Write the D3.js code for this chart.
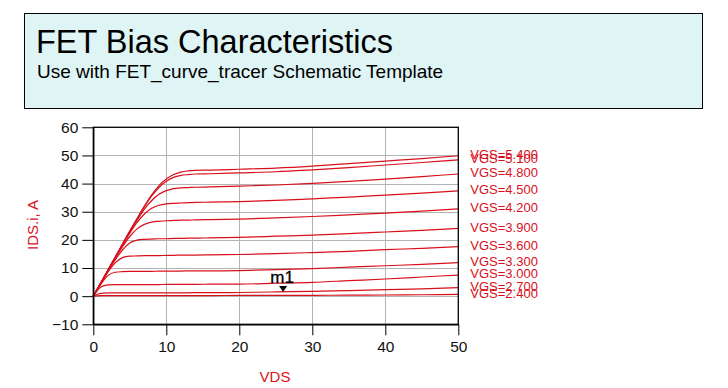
<!DOCTYPE html>
<html><head><meta charset="utf-8">
<script src="https://cdn.jsdelivr.net/npm/d3@7"></script>
<style>
html,body{margin:0;padding:0;background:#fff;}
svg{display:block;font-family:"Liberation Sans",Arial,sans-serif;}
</style></head>
<body><svg id="c" width="728" height="388"></svg>
<script>
const titleText = "FET Bias Characteristics";
const subtitleText = "Use with FET_curve_tracer Schematic Template";
const xLabel = "VDS";
const yLabel = "IDS.i, A";
const xTicks = [0,10,20,30,40,50];
const yTicks = [-10,0,10,20,30,40,50,60];
const vds = [0,1,2,3,4,5,6,7,8,9,10,11,12,13,14,16,20,25,30,35,40,45,50];
const vgsLabels = ["VGS=2.400","VGS=2.700","VGS=3.000","VGS=3.300","VGS=3.600","VGS=3.900","VGS=4.200","VGS=4.500","VGS=4.800","VGS=5.100","VGS=5.400"];
const ids_2400 = [0,0.2,0.2,0.2,0.2,0.2,0.2,0.2,0.2,0.2,0.2,0.2,0.2,0.2,0.2,0.22,0.25,0.28,0.3,0.36,0.42,0.5,0.6];
const ids_2700 = [0,1.0,1.2,1.2,1.2,1.2,1.2,1.2,1.2,1.2,1.2,1.2,1.2,1.2,1.25,1.25,1.3,1.5,1.7,2.0,2.3,2.6,3.0];
const ids_3000 = [0,3.2,4.0,4.1,4.1,4.1,4.1,4.1,4.1,4.1,4.2,4.2,4.2,4.2,4.2,4.25,4.3,4.6,4.9,5.5,6.1,6.8,7.5];
const ids_3300 = [0,4.1,7.3,8.5,8.7,8.8,8.8,8.8,8.8,8.9,8.9,8.9,8.9,9.0,9.0,9.0,9.1,9.4,9.8,10.3,10.8,11.3,11.9];
const ids_3600 = [0,4.4,8.5,11.8,13.7,14.2,14.3,14.4,14.4,14.4,14.5,14.5,14.6,14.6,14.6,14.7,14.8,15.1,15.5,15.9,16.5,17.0,17.6];
const ids_3900 = [0,4.5,8.9,12.9,16.4,18.9,19.9,20.2,20.3,20.4,20.4,20.5,20.5,20.6,20.6,20.7,20.9,21.3,21.7,22.2,22.8,23.4,24.1];
const ids_4200 = [0,4.6,9.1,13.5,17.6,21.2,23.9,25.5,26.3,26.6,26.8,26.9,27.0,27.0,27.1,27.2,27.4,27.8,28.3,28.9,29.5,30.2,31.0];
const ids_4500 = [0,4.6,9.2,13.7,18.2,22.4,26.2,29.2,31.2,32.3,32.8,33.0,33.1,33.2,33.3,33.4,33.6,34.0,34.6,35.2,35.9,36.6,37.4];
const ids_4800 = [0,4.6,9.2,13.8,18.4,22.9,27.0,30.9,34.0,36.2,37.5,38.2,38.5,38.6,38.7,38.8,39.1,39.5,40.1,40.8,41.6,42.5,43.4];
const ids_5100 = [0,4.6,9.2,13.8,18.5,23.1,27.5,31.8,35.6,38.6,40.8,42.2,42.9,43.2,43.4,43.5,43.8,44.2,44.9,45.7,46.6,47.5,48.4];
const ids_5400 = [0,4.6,9.2,13.8,18.5,23.1,27.6,32.0,36.0,39.3,41.6,43.2,44.1,44.5,44.7,44.8,45.1,45.5,46.2,47.1,48.0,48.9,49.9];
const series = [ids_2400,ids_2700,ids_3000,ids_3300,ids_3600,ids_3900,ids_4200,ids_4500,ids_4800,ids_5100,ids_5400];
const markerName = "m1";
const markerVds = 26;
const markerIds = 1.5;

const svg = d3.select("#c");
const red = "#d8101c";

// title box
svg.append("rect").attr("x",24.5).attr("y",13.5).attr("width",678).attr("height",95)
  .attr("fill","#dff4f4").attr("stroke","#000").attr("stroke-width",1);
svg.append("text").attr("x",36).attr("y",53).attr("font-size",32.5).attr("fill","#000").text(titleText);
svg.append("text").attr("x",37).attr("y",78).attr("font-size",19).attr("fill","#000").text(subtitleText);

const x = d3.scaleLinear().domain([0,50]).range([93.3,458.3]);
const y = d3.scaleLinear().domain([-10,60]).range([324.3,127.3]);

// grid
const g = svg.append("g");
g.selectAll(".gx").data(xTicks.slice(1,-1)).join("line")
  .attr("x1",d=>Math.round(x(d))+0.5).attr("x2",d=>Math.round(x(d))+0.5)
  .attr("y1",y(60)).attr("y2",y(-10)).attr("stroke","#b4b4b4");
g.selectAll(".gy").data(yTicks.slice(1,-1)).join("line")
  .attr("y1",d=>Math.round(y(d))+0.5).attr("y2",d=>Math.round(y(d))+0.5)
  .attr("x1",x(0)).attr("x2",x(50)).attr("stroke","#b4b4b4");

// curves
const line = d3.line().x((d,i)=>x(vds[i])).y(d=>y(d)).curve(d3.curveMonotoneX);
svg.append("g").selectAll("path").data(series).join("path")
  .attr("d",line).attr("fill","none").attr("stroke",red).attr("stroke-width",1.2);

// frame
svg.append("rect").attr("x",x(0)).attr("y",y(60)).attr("width",x(50)-x(0)).attr("height",y(-10)-y(60))
  .attr("fill","none").attr("stroke","#000").attr("stroke-width",1.3);

// axes
const ax = svg.append("g").attr("transform",`translate(0,${y(-10)})`);
ax.call(d3.axisBottom(x).tickValues(d3.range(0,51,2)).tickSize(7).tickSizeOuter(0).tickFormat(""));
ax.call(d3.axisBottom(x).tickValues(xTicks).tickSize(11).tickSizeOuter(0).tickPadding(6));
const ay = svg.append("g").attr("transform",`translate(${x(0)},0)`);
ay.call(d3.axisLeft(y).tickValues(d3.range(-10,61,5)).tickSize(7).tickSizeOuter(0).tickFormat(""));
ay.call(d3.axisLeft(y).tickValues(yTicks).tickSize(11).tickSizeOuter(0).tickPadding(4));
svg.selectAll(".tick line").attr("stroke","#000");
svg.selectAll(".domain").attr("stroke","#000").attr("stroke-width",1.3);
svg.selectAll(".tick text").attr("font-size",15.5).attr("fill","#111")
  .attr("font-family","'Liberation Sans',Arial,sans-serif");

// axis titles
svg.append("text").attr("x",275).attr("y",382).attr("text-anchor","middle").attr("font-size",15)
  .attr("fill",red).text(xLabel);
svg.append("text").attr("transform","translate(38,225) rotate(-90)").attr("text-anchor","middle")
  .attr("font-size",15).attr("fill",red).text(yLabel);

// curve labels
svg.append("g").selectAll("text").data(series).join("text")
  .attr("x",x(50)+12).attr("y",d=>y(d[d.length-1])-1.5).attr("dy","0.36em")
  .attr("font-size",13).attr("fill",red).text((d,i)=>vgsLabels[i]);

// marker
const mx = x(markerVds), my = y(markerIds);
svg.append("path").attr("d",`M${mx-4},${my-6}L${mx+4},${my-6}L${mx},${my}Z`).attr("fill","#000");
svg.append("text").attr("x",mx-1).attr("y",my-9).attr("text-anchor","middle").attr("font-size",17)
  .attr("fill","#000").attr("stroke","#000").attr("stroke-width",0.3).text(markerName);
</script></body></html>
